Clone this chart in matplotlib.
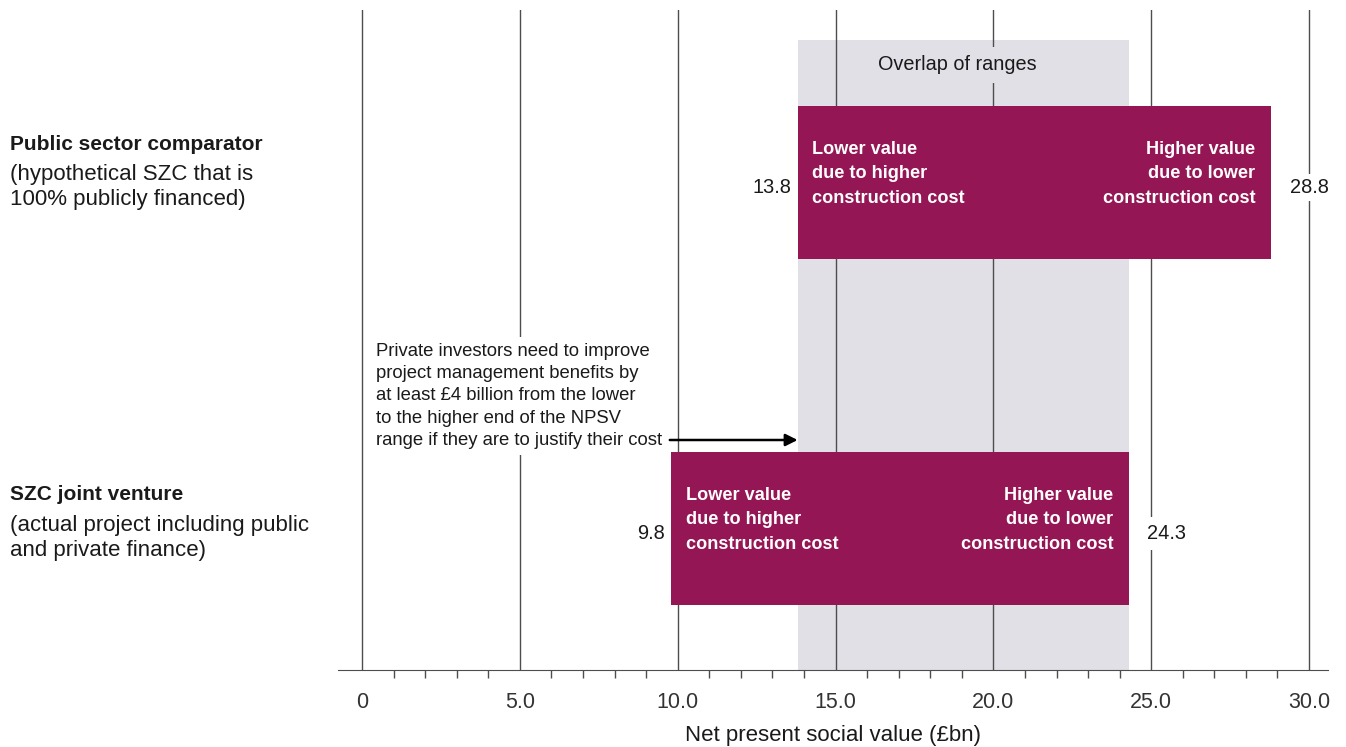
import matplotlib.pyplot as plt
import matplotlib.ticker as mticker

plt.rcParams['font.family'] = ['Liberation Sans', 'DejaVu Sans']

# data
rows = ['Public sector comparator', 'SZC joint venture']
row_notes = ['(hypothetical SZC that is\n100% publicly financed)',
             '(actual project including public\nand private finance)']
low = [13.8, 9.8]
high = [28.8, 24.3]
overlap = [13.8, 24.3]
xticks = [0, 5, 10, 15, 20, 25, 30]
xticklabels = ['0', '5.0', '10.0', '15.0', '20.0', '25.0', '30.0']

bar_col = '#951654'
grey = '#e1e0e6'
txt = '#1a1a1a'
grid_col = '#4d4d4d'

W, H = 1346, 747
fig = plt.figure(figsize=(W / 100, H / 100), dpi=100)
ax = fig.add_axes([338 / W, (H - 670) / H, (1328 - 338) / W, 660 / H])
ax.set_xlim(-0.76, 30.6)
ax.set_ylim(0, 660)

# row centres / height in axis pixel units (from bottom)
yc = [670 - 182.5, 670 - 528.5]
bh = 153

# overlap band
ax.bar((overlap[0] + overlap[1]) / 2, 630, width=overlap[1] - overlap[0], bottom=0,
       color=grey, zorder=0)
ax.text((overlap[0] + overlap[1]) / 2 - 0.2, 670 - 65, 'Overlap of ranges', ha='center', va='center',
        fontsize=14.3, color=txt, zorder=3,
        bbox=dict(facecolor=grey, edgecolor='none', pad=6))

# gridlines
for xt in xticks:
    ax.plot([xt, xt], [0, 660], color=grid_col, lw=1, zorder=1)

# bars
for i in range(2):
    ax.barh(yc[i], high[i] - low[i], left=low[i], height=bh, color=bar_col, zorder=2)
    ax.text(low[i] + 0.47, yc[i] + 8.5, 'Lower value\ndue to higher\nconstruction cost',
            ha='left', va='center', color='white', fontsize=13.1, fontweight='bold',
            linespacing=1.55, zorder=3)
    ax.text(high[i] - 0.5, yc[i] + 8.5, 'Higher value\ndue to lower\nconstruction cost',
            ha='right', va='center', color='white', fontsize=13.1, fontweight='bold',
            linespacing=1.55, zorder=3)
    ax.text(low[i] - 0.2, yc[i] - 5, f'{low[i]:.1f}', ha='right', va='center',
            fontsize=14.4, color=txt, zorder=3)

ax.text(high[0] + 1.22, yc[0] - 5, f'{high[0]:.1f}', ha='center', va='center',
        fontsize=14.4, color=txt, zorder=3,
        bbox=dict(facecolor='white', edgecolor='none', pad=3))
ax.text(high[1] + 0.58, yc[1] - 5, f'{high[1]:.1f}', ha='left', va='center',
        fontsize=14.4, color=txt, zorder=3,
        bbox=dict(facecolor='white', edgecolor='none', pad=5))

# row labels
label_y = [144, 495]
for i in range(2):
    fig.text(10 / W, 1 - label_y[i] / H, rows[i], ha='left', va='center',
             fontsize=15, fontweight='bold', color=txt)
    fig.text(10 / W, 1 - (label_y[i] + 20) / H, row_notes[i], ha='left', va='top',
             fontsize=16, color=txt, linespacing=1.22)

# annotation
ax.annotate('', xy=(low[0], 670 - 440), xytext=(9.75, 670 - 440),
            arrowprops=dict(arrowstyle='-|>', color='black', lw=1.8, mutation_scale=18,
                            shrinkA=0, shrinkB=0), zorder=4)
ax.text(0.45, 670 - 396, 'Private investors need to improve\nproject management benefits by\n'
        'at least £4 billion from the lower\nto the higher end of the NPSV\n'
        'range if they are to justify their cost',
        ha='left', va='center', fontsize=13.3, color=txt, linespacing=1.41, zorder=3,
        bbox=dict(facecolor='white', edgecolor='none', pad=4))

# axes styling
for s in ['top', 'right', 'left']:
    ax.spines[s].set_visible(False)
ax.spines['bottom'].set_color(grid_col)
ax.set_yticks([])
ax.set_xticks(xticks)
ax.set_xticklabels(xticklabels, fontsize=15.5, color='#333333')
ax.xaxis.set_minor_locator(mticker.FixedLocator([v for v in range(31) if v % 5]))
ax.tick_params(axis='x', which='major', length=0, pad=16)
ax.tick_params(axis='x', which='minor', length=6, color=grid_col, width=1)
ax.set_xlabel('Net present social value (£bn)', fontsize=16, color=txt)
ax.xaxis.label.set_va('center')
ax.xaxis.set_label_coords(0.5, -(735 - 670) / 660)

fig.savefig('out.png', dpi=100)
